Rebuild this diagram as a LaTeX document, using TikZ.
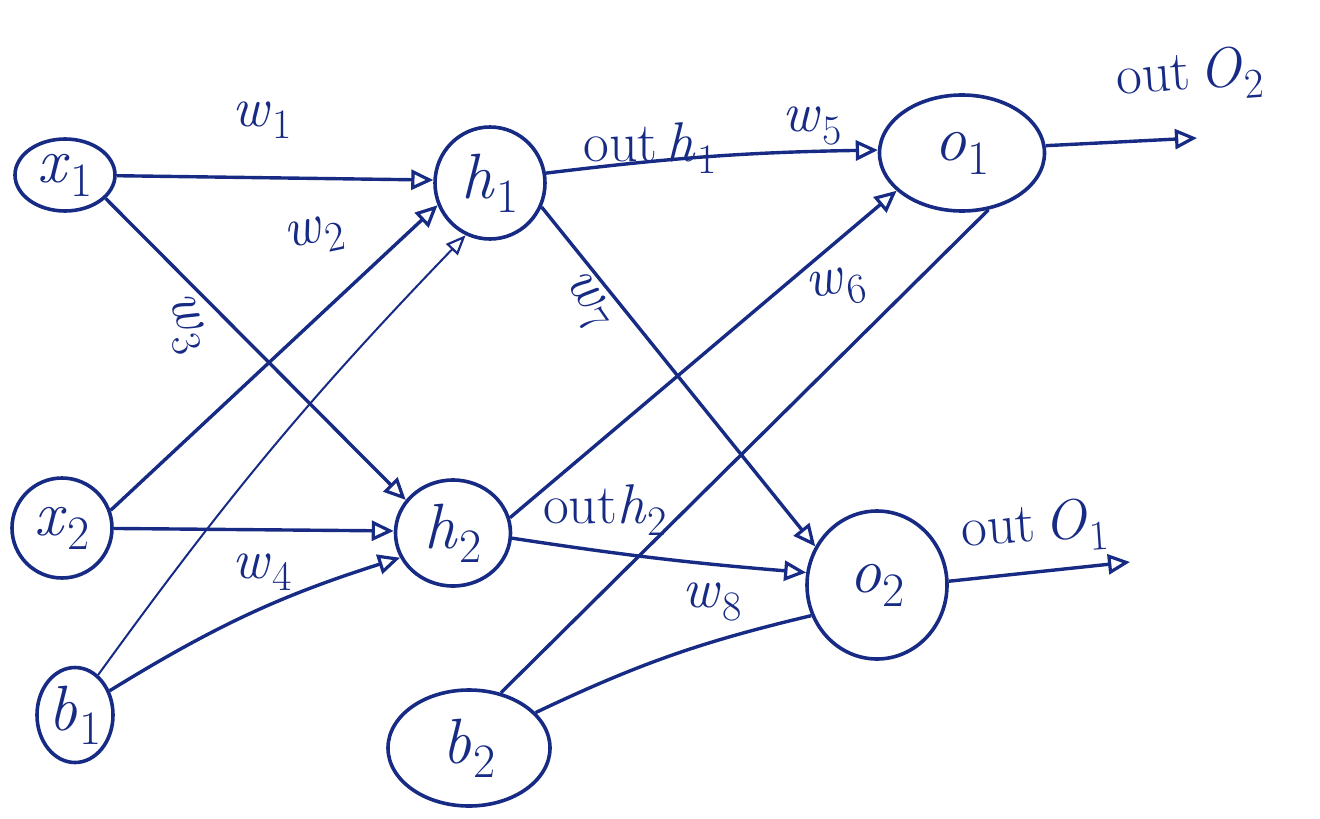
\documentclass[tikz,border=0pt]{standalone}
\usepackage{graphicx}
\usetikzlibrary{arrows.meta,shapes.geometric}
\definecolor{ink}{rgb}{0.09,0.17,0.52}
\newcommand\isub[2]{\textit{#1}\kern0.02em\raisebox{-0.22em}{\scalebox{0.75}{#2}}}
\begin{document}
\begin{tikzpicture}[x=1pt,y=-1pt,
  ink/.style={draw=ink,line width=3.6pt},
  neuron/.style={ink,ellipse,inner sep=0pt,text=ink,font=\fontsize{64}{70}\selectfont},
  wire/.style={ink,line width=3.4pt,-{Triangle[open,length=22pt,width=20pt,line width=3.2pt]}},
  plain/.style={ink,line width=3.4pt},
  lbl/.style={text=ink,font=\fontsize{56}{62}\selectfont,inner sep=0pt}]
\useasboundingbox (0,0) rectangle (1320,819);
% neurons
\node[neuron,minimum width=100pt,minimum height=72pt] (x1) at (65,175) {\isub{x}{1}};
\node[neuron,minimum width=100pt,minimum height=100pt] (x2) at (62,528) {\isub{x}{2}};
\node[neuron,minimum width=76pt,minimum height=95pt] (b1) at (75,715) {\isub{b}{1}};
\node[neuron,minimum width=110pt,minimum height=112pt] (h1) at (490,183) {\isub{h}{1}};
\node[neuron,minimum width=115pt,minimum height=106pt] (h2) at (453,533) {\isub{h}{2}};
\node[neuron,minimum width=162pt,minimum height=116pt] (b2) at (469,748) {\isub{b}{2}};
\node[neuron,minimum width=165pt,minimum height=116pt] (o1) at (962,153) {\isub{o}{1}};
\node[neuron,minimum width=140pt,minimum height=148pt] (o2) at (877,585) {\isub{o}{2}};
\coordinate (y1) at (1197,138);
\coordinate (y2) at (1130,562);
% connectors
\draw[wire] (x1) -- (h1.177);
\draw[wire] (x2.20) -- (h1.203);
\draw[ink,line width=2pt,-{Triangle[open,length=20pt,width=16pt,line width=2.2pt]}] (b1.60) to[bend left=4] (h1.245);
\draw[wire] (x1.-30) -- (h2.145);
\draw[wire] (x2) -- (h2.178);
\draw[wire] (b1.35) to[bend left=7] (h2.205);
\draw[wire] (h1.10) to[bend left=3] (o1.178);
\draw[wire] (h2.15) -- (o1.210);
\draw[wire] (h1.-25) -- (o2.148);
\draw[wire] (h2.-5) to[bend right=2] (o2.170);
\draw[plain] (b2.60) -- (o1.-65);
\draw[plain] (b2.28) to[bend left=6] (o2.205);
\draw[wire] (o1.5) -- (y1);
\draw[wire] (o2.3) -- (y2);
% labels
\node[lbl] (lw1) at (262,120) {\isub{w}{1}};
\node[lbl,rotate=12] (lw2) at (315,236) {\isub{w}{2}};
\node[lbl,rotate=-70] (lw3) at (184,324) {\isub{w}{3}};
\node[lbl] (lw4) at (262,572) {\isub{w}{4}};
\node[lbl] (lw5) at (812,126) {\isub{w}{5}};
\node[lbl,rotate=10] (lw6) at (836,288) {\isub{w}{6}};
\node[lbl,rotate=-55] (lw7) at (586,302) {\isub{w}{7}};
\node[lbl] (lw8) at (712,602) {\isub{w}{8}};
\node[lbl] (loh1) at (650,148) {out\,\isub{h}{1}};
\node[lbl] (loh2) at (605,510) {out\isub{h}{2}};
\node[lbl,rotate=4] (lo2) at (1190,76) {out\,\isub{O}{2}};
\node[lbl,rotate=4] (lo1) at (1035,528) {out\,\isub{O}{1}};
\end{tikzpicture}
\end{document}
